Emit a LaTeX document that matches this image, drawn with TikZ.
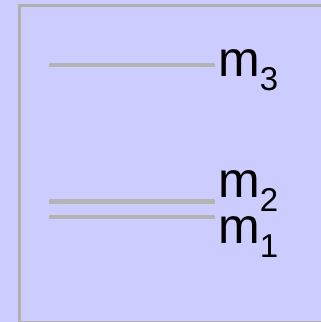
\documentclass[tikz,border=0pt]{standalone}
\usepackage{fontspec}
\usepackage{tikz}
\newfontfamily\labelfont{Liberation Sans}
\definecolor{panelblue}{HTML}{CCCCFF}
\definecolor{framegray}{HTML}{B0B0B0}
\definecolor{levelgray}{HTML}{B4B4B4}
\newcommand{\massname}[1]{m\raisebox{-14pt}{\fontsize{33}{33}\selectfont #1}}

\begin{document}
\begin{tikzpicture}[x=1pt, y=-1pt,
  level/.style={draw=levelgray, line width=4.2pt},
  mlabel/.style={anchor=base west, inner sep=0pt, font=\labelfont\fontsize{50}{50}\selectfont}]

\fill[panelblue] (0,0) rectangle (321,322);
\useasboundingbox (0,0) rectangle (321,322);
\draw[framegray, line width=3pt] (19.5,5) rectangle (322,322);

\draw[level] (49,65.3) -- (215,65.3);
\node[mlabel] (m3) at (218,76.5) {\massname{3}};

\draw[level] (49,201.5) -- (215,201.5);
\node[mlabel] (m2) at (218,197) {\massname{2}};

\draw[level] (49,216.7) -- (215,216.7);
\node[mlabel] (m1) at (218,243) {\massname{1}};

\end{tikzpicture}
\end{document}
